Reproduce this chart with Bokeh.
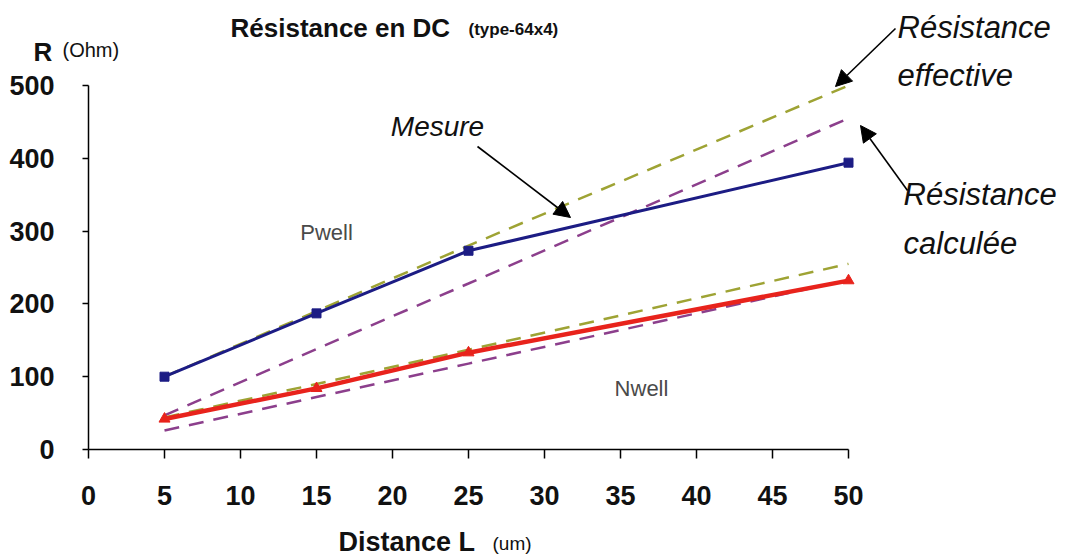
from bokeh.plotting import figure
from bokeh.models import Range1d, FixedTicker, Label, Arrow, NormalHead
from bokeh.embed import file_html
from bokeh.resources import INLINE

# ---- data ----
distance = [5, 15, 25, 50]
pwell_mesure = [100, 187, 273, 394]
pwell_effective = [100, 190, 280, 500]
pwell_calculee = [47, 138, 228, 455]
nwell_mesure = [42, 84, 133, 232]
nwell_effective = [44, 90, 137, 255]
nwell_calculee = [26, 72, 118, 233]

x_ticks = [0, 5, 10, 15, 20, 25, 30, 35, 40, 45, 50]
y_ticks = [0, 100, 200, 300, 400, 500]

BLUE = "#1c1c84"
RED = "#e8231c"
GREEN = "#9ea334"
PURPLE = "#8c3f8c"
SANS = "Liberation Sans"

# layout: canvas pixels of the data origin and scale
W, H = 1060, 558
X0, Y0 = 88, 449          # canvas pixel of (0, 0)
SX, SY = 15.2, 0.728      # pixels per data unit

p = figure(width=W, height=H,
           min_border_left=0, min_border_right=0, min_border_top=0, min_border_bottom=0,
           x_range=Range1d(-X0 / SX, (W - X0) / SX),
           y_range=Range1d(-(H - Y0) / SY, Y0 / SY),
           output_backend="svg", toolbar_location=None)
p.outline_line_color = None
p.xgrid.visible = False
p.ygrid.visible = False
p.background_fill_color = "white"
p.border_fill_color = "white"

for ax, ticks, bounds in ((p.xaxis[0], x_ticks, (0, 50)), (p.yaxis[0], y_ticks, (0, 500))):
    ax.fixed_location = 0
    ax.ticker = FixedTicker(ticks=ticks)
    ax.bounds = bounds
    ax.minor_tick_line_color = None
    ax.major_tick_in = 0
    ax.axis_line_color = "black"
    ax.axis_line_width = 1.5
    ax.major_tick_line_color = "black"
    ax.major_tick_line_width = 1.5
    ax.major_label_text_font = SANS
    ax.major_label_text_font_style = "bold"
    ax.major_label_text_font_size = "27px"
    ax.major_label_text_color = "#111111"
p.xaxis.major_tick_out = 9
p.xaxis.major_label_standoff = 27
p.yaxis.major_tick_out = 6
p.yaxis.major_label_standoff = 28

# dashed curves (effective / calculated)
dash = "15 10"
p.line(distance, pwell_effective, line_color=GREEN, line_width=2.5, line_dash=dash)
p.line(distance, pwell_calculee, line_color=PURPLE, line_width=2.5, line_dash=dash)
p.line(distance, nwell_effective, line_color=GREEN, line_width=2.5, line_dash=dash)
p.line(distance, nwell_calculee, line_color=PURPLE, line_width=2.5, line_dash=dash)

# measured curves
p.line(distance, pwell_mesure, line_color=BLUE, line_width=3)
p.scatter(distance, pwell_mesure, marker="square", size=9, fill_color=BLUE, line_color=BLUE)
p.line(distance, nwell_mesure, line_color=RED, line_width=4.5)
p.scatter(distance, nwell_mesure, marker="triangle", size=11, fill_color=RED, line_color=RED)


def dx(px):
    return (px - X0) / SX


def dy(py):
    return (Y0 - py) / SY


def lab(text, px, py, size, style="normal", align="left", color="#111111"):
    p.add_layout(Label(x=dx(px), y=dy(py), text=text, text_font=SANS, text_font_style=style,
                       text_font_size=size, text_align=align, text_baseline="middle",
                       text_color=color))


lab("Résistance en DC", 230, 27, "26px", "bold")
lab("(type-64x4)", 468, 29, "17px", "bold")
lab("R", 33, 51, "26px", "bold")
lab("(Ohm)", 62, 49, "20px", "normal")
lab("Distance L", 338, 541, "27px", "bold")
lab("(um)", 492, 543, "19px", "normal")
lab("Pwell", 326, 232, "22px", "normal", align="center", color="#4a4a4a")
lab("Nwell", 641, 388, "22px", "normal", align="center", color="#4a4a4a")
lab("Mesure", 437, 126, "28px", "italic", align="center")
lab("Résistance", 897, 27, "31px", "italic")
lab("effective", 897, 75, "31px", "italic")
lab("Résistance", 903, 194, "31px", "italic")
lab("calculée", 903, 243, "31px", "italic")


def arrow(x0, y0, x1, y1):
    p.add_layout(Arrow(end=NormalHead(size=16, fill_color="black", line_color="black"),
                       x_start=dx(x0), y_start=dy(y0), x_end=dx(x1), y_end=dy(y1),
                       line_color="black", line_width=1.6))


arrow(477, 146, 570, 217)
arrow(895, 28, 835, 86)
arrow(907, 190, 860, 125)

open("out.html", "w").write(file_html(p, INLINE))
